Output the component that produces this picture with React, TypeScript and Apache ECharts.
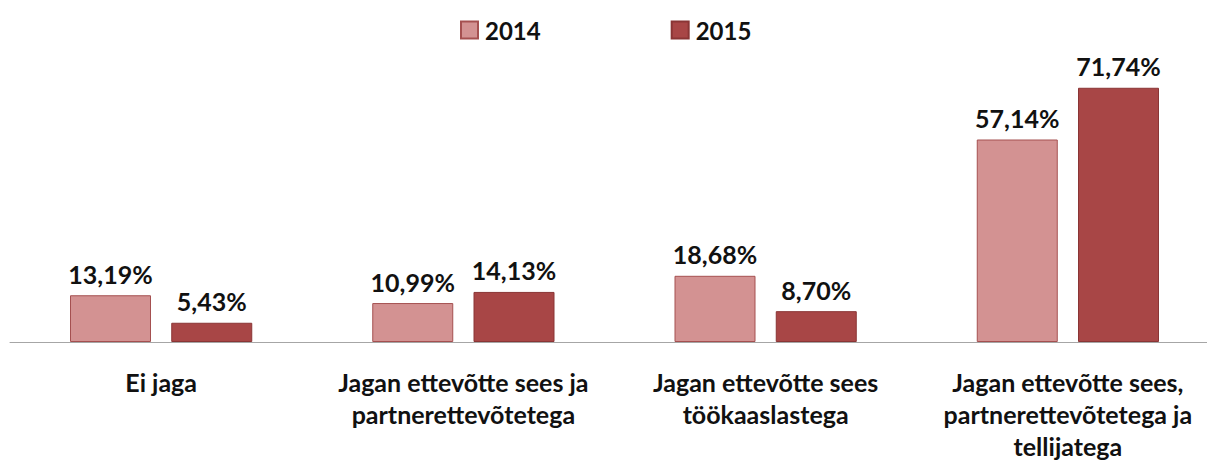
import React, { useEffect, useRef } from "react";
import * as echarts from "echarts";

const categories = [
  "Ei jaga",
  "Jagan ettevõtte sees ja\npartnerettevõtetega",
  "Jagan ettevõtte sees\ntöökaaslastega",
  "Jagan ettevõtte sees,\npartnerettevõtetega ja\ntellijatega",
];
const seriesNames = ["2014", "2015"];
const values2014 = [13.19, 10.99, 18.68, 57.14];
const values2015 = [5.43, 14.13, 8.7, 71.74];

const FONT = "Lato";

export default function App() {
  const ref = useRef<HTMLDivElement>(null);
  useEffect(() => {
    if (!ref.current) return;
    const chart = echarts.init(ref.current, null, { renderer: "svg" });
    const label = {
      show: true,
      position: "top",
      distance: 9,
      fontFamily: FONT,
      fontWeight: "bold",
      fontSize: 25,
      color: "#111",
      formatter: (p: any) => p.value.toFixed(2).replace(".", ",") + "%",
    };
    chart.setOption({
      animation: false,
      backgroundColor: "#fff",
      legend: {
        top: 13,
        left: 455,
        itemWidth: 17,
        itemHeight: 17,
        itemGap: 130,
        icon: "rect",
        textStyle: { fontFamily: FONT, fontWeight: "bold", fontSize: 24, color: "#111", padding: [0, 0, 0, 2] },
        data: seriesNames,
      },
      grid: { left: 10, width: 1209, top: 58.5, bottom: 118 },
      xAxis: {
        type: "category",
        data: categories,
        axisLine: { lineStyle: { color: "#a6a6a6", width: 1 } },
        axisTick: { show: false },
        axisLabel: {
          interval: 0,
          margin: 24,
          fontFamily: FONT,
          fontWeight: "bold",
          fontSize: 25,
          lineHeight: 32,
          color: "#111",
        },
      },
      yAxis: {
        type: "value",
        min: 0,
        max: 80,
        show: false,
        splitLine: { show: false },
      },
      series: [
        {
          name: seriesNames[0],
          type: "bar",
          data: values2014,
          barWidth: 81,
          barGap: "25%",
          itemStyle: { color: "#d39292", borderColor: "#a55050", borderWidth: 1 },
          label,
        },
        {
          name: seriesNames[1],
          type: "bar",
          data: values2015,
          barWidth: 81,
          barGap: "25%",
          itemStyle: { color: "#a84646", borderColor: "#8a3535", borderWidth: 1 },
          label,
        },
      ],
    });
    return () => chart.dispose();
  }, []);
  return (
    <div
      style={{
        position: "absolute",
        left: 0,
        top: 0,
        width: 1207,
        height: 462,
        overflow: "hidden",
        background: "#fff",
      }}
    >
      <div ref={ref} style={{ width: 1222, height: 462 }} />
    </div>
  );
}
